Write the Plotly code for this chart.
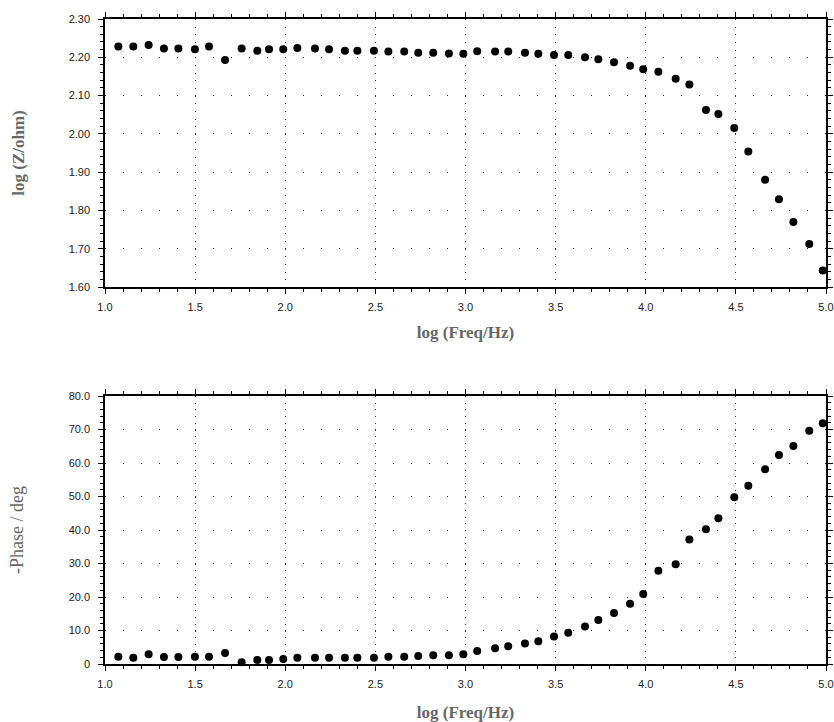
import plotly.graph_objects as go

# ---- data ----
log_freq = [1.074, 1.157, 1.242, 1.327, 1.407, 1.499, 1.577, 1.666, 1.758, 1.845,
            1.910, 1.989, 2.067, 2.165, 2.243, 2.331, 2.400, 2.492, 2.572, 2.660,
            2.738, 2.821, 2.908, 2.988, 3.065, 3.164, 3.237, 3.330, 3.404, 3.491,
            3.570, 3.663, 3.737, 3.824, 3.913, 3.986, 4.070, 4.166, 4.242, 4.334,
            4.403, 4.491, 4.569, 4.662, 4.739, 4.819, 4.907, 4.982]

log_z = [2.228, 2.228, 2.232, 2.223, 2.223, 2.221, 2.228, 2.193, 2.223, 2.217,
         2.221, 2.221, 2.224, 2.223, 2.221, 2.217, 2.217, 2.217, 2.215, 2.215,
         2.212, 2.212, 2.210, 2.209, 2.216, 2.215, 2.215, 2.212, 2.209, 2.206,
         2.206, 2.200, 2.195, 2.187, 2.178, 2.169, 2.162, 2.144, 2.129, 2.062,
         2.052, 2.015, 1.954, 1.880, 1.829, 1.770, 1.712, 1.643]

neg_phase = [2.2, 1.9, 2.9, 2.1, 2.1, 2.2, 2.2, 3.3, 0.5, 1.2,
             1.2, 1.5, 1.9, 1.9, 1.9, 1.9, 1.9, 1.9, 2.2, 2.2,
             2.4, 2.6, 2.6, 2.9, 3.9, 4.7, 5.3, 6.1, 6.8, 8.2,
             9.3, 11.2, 13.1, 15.2, 18.0, 20.9, 27.8, 29.8, 37.2, 40.2,
             43.5, 49.8, 53.2, 58.1, 62.4, 65.1, 69.6, 71.9]

x_tick_vals = [1.0, 1.5, 2.0, 2.5, 3.0, 3.5, 4.0, 4.5, 5.0]
x_tick_text = ["1.0", "1.5", "2.0", "2.5", "3.0", "3.5", "4.0", "4.5", "5.0"]
z_tick_vals = [1.6, 1.7, 1.8, 1.9, 2.0, 2.1, 2.2, 2.3]
z_tick_text = ["1.60", "1.70", "1.80", "1.90", "2.00", "2.10", "2.20", "2.30"]
p_tick_vals = [0, 10, 20, 30, 40, 50, 60, 70, 80]
p_tick_text = ["0", "10.0", "20.0", "30.0", "40.0", "50.0", "60.0", "70.0", "80.0"]

x_title = "log (Freq/Hz)"
z_title = "log (Z/ohm)"
p_title = "-Phase / deg"

# ---- figure ----
W, H = 834, 722
mt, mb, ml, mr = 19, 58, 105, 8

tick_font = dict(family="Liberation Sans, Arial, sans-serif", size=11, color="#222")
title_font_bold = dict(family="Liberation Serif, Times New Roman, serif", size=17, color="#666")
title_font_reg = dict(family="Liberation Serif, Times New Roman, serif", size=18, color="#666")

fig = go.Figure()
marker = dict(size=8, color="black", line=dict(width=0))
fig.add_trace(go.Scatter(x=log_freq, y=log_z, mode="markers", marker=marker,
                         xaxis="x", yaxis="y", cliponaxis=False, showlegend=False))
fig.add_trace(go.Scatter(x=log_freq, y=neg_phase, mode="markers", marker=marker,
                         xaxis="x2", yaxis="y2", cliponaxis=False, showlegend=False))

common = dict(showline=True, linecolor="black", linewidth=1.5, mirror="allticks",
              ticks="outside", ticklen=5, tickwidth=1, tickcolor="black",
              showgrid=True, gridcolor="#333", gridwidth=1, zeroline=False,
              tickfont=tick_font, automargin=False)

def xaxis(anchor, dash, ystandoff):
    return dict(common, range=[1.0, 5.0], tickmode="array", tickvals=x_tick_vals,
                ticktext=x_tick_text, anchor=anchor, griddash=dash,
                ticklabelstandoff=4,
                minor=dict(dtick=0.1, ticks="outside", ticklen=3, tickcolor="black",
                           showgrid=False),
                title=dict(text="<b>" + x_title + "</b>", font=title_font_bold,
                           standoff=ystandoff))

top_dom = [(H - mt - mb - 268) / (H - mt - mb), 1.0]
bot_dom = [0.0, 268 / (H - mt - mb)]

fig.update_layout(
    width=W, height=H,
    margin=dict(l=ml, r=mr, t=mt, b=mb),
    paper_bgcolor="white", plot_bgcolor="white",
    xaxis=xaxis("y", "1px,6.66px", 14),
    yaxis=dict(common, domain=top_dom, range=[1.6, 2.3], tickmode="array",
               tickvals=z_tick_vals, ticktext=z_tick_text, anchor="x",
               griddash="1px,17px", ticklabelstandoff=6,
               minor=dict(dtick=0.02, ticks="outside", ticklen=3, tickcolor="black",
                          showgrid=False),
               title=dict(text="<b>" + z_title + "</b>", font=title_font_bold, standoff=40)),
    xaxis2=xaxis("y2", "1px,5.7px", 20),
    yaxis2=dict(common, domain=bot_dom, range=[0, 80], tickmode="array",
                tickvals=p_tick_vals, ticktext=p_tick_text, anchor="x2",
                griddash="1px,17px", ticklabelstandoff=6,
                minor=dict(dtick=2, ticks="outside", ticklen=3, tickcolor="black",
                           showgrid=False),
                title=dict(text=p_title, font=title_font_reg, standoff=40)),
)

fig.write_html("out.html")
